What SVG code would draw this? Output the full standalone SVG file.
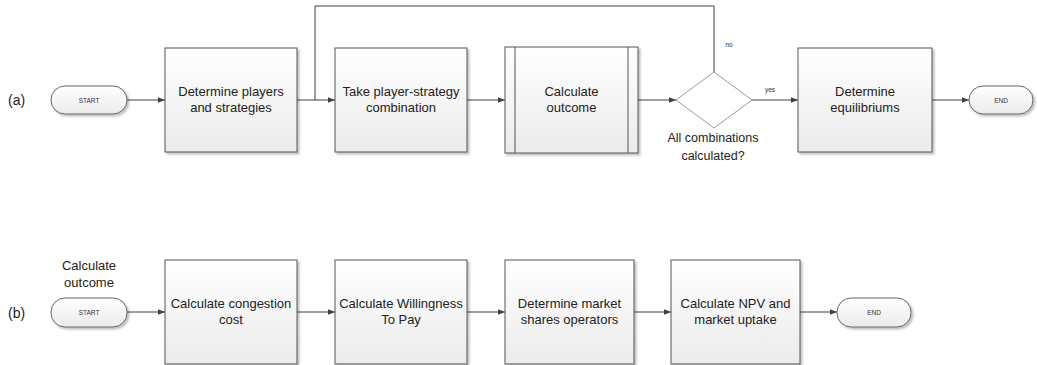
<svg xmlns="http://www.w3.org/2000/svg" width="1037" height="365" viewBox="0 0 1037 365">
<defs>
<linearGradient id="g" x1="0" y1="0" x2="0" y2="1">
<stop offset="0" stop-color="#ffffff"/>
<stop offset="1" stop-color="#ebebeb"/>
</linearGradient>
<filter id="sh" x="-10%" y="-10%" width="130%" height="130%">
<feDropShadow dx="2" dy="2" stdDeviation="1" flood-color="#000" flood-opacity="0.25"/>
</filter>
<marker id="ah" viewBox="0 0 10 10" refX="10" refY="5" markerWidth="7" markerHeight="7" markerUnits="userSpaceOnUse" orient="auto">
<path d="M0,1 L10,5 L0,9 z" fill="#404040"/>
</marker>
</defs>
<style>
.box{fill:url(#g);stroke:#555;stroke-width:1;filter:url(#sh)}
.pill{fill:url(#g);stroke:#666;stroke-width:1;filter:url(#sh)}
.dia{fill:#fff;stroke:#999;stroke-width:1}
.t{font-family:"Liberation Sans",Arial,sans-serif;font-size:13px;fill:#222;text-anchor:middle}
.s{font-family:"Liberation Sans",Arial,sans-serif;font-size:6.5px;fill:#333;text-anchor:middle}
.lab{font-family:"Liberation Sans",Arial,sans-serif;font-size:14px;fill:#222}
.c{fill:none;stroke:#404040;stroke-width:1}
.ca{fill:none;stroke:#404040;stroke-width:1;marker-end:url(#ah)}
</style>
<rect width="1037" height="365" fill="#fff"/>
<text class="lab" x="8" y="105">(a)</text>
<text class="lab" x="8" y="318">(b)</text>

<g id="connectors">
<line class="ca" x1="127" y1="100" x2="165" y2="100"/>
<line class="ca" x1="297" y1="100" x2="335" y2="100"/>
<line class="ca" x1="467" y1="100" x2="505" y2="100"/>
<line class="ca" x1="638" y1="100" x2="676" y2="100"/>
<line class="ca" x1="752" y1="100" x2="798" y2="100"/>
<polyline class="c" points="714,72 714,6 315,6 315,100"/>
<line class="ca" x1="932" y1="100" x2="969" y2="100"/>
<text class="s" x="729" y="47">no</text>
<text class="s" x="770" y="92">yes</text>
<line class="ca" x1="127" y1="312" x2="165" y2="312"/>
<line class="ca" x1="297" y1="312" x2="335" y2="312"/>
<line class="ca" x1="467" y1="312" x2="505" y2="312"/>
<line class="ca" x1="634" y1="312" x2="671" y2="312"/>
<line class="ca" x1="800" y1="312" x2="837" y2="312"/>
</g>

<g id="a-start">
<rect class="pill" x="51" y="86" width="76" height="28" rx="14"/>
<text class="s" x="89" y="102.5">START</text>
</g>
<g id="a-players">
<rect class="box" x="165" y="48" width="132" height="104"/>
<text class="t" x="231" y="96">Determine players</text>
<text class="t" x="231" y="112">and strategies</text>
</g>
<g id="a-combination">
<rect class="box" x="335" y="48" width="132" height="104"/>
<text class="t" x="401" y="96">Take player-strategy</text>
<text class="t" x="401" y="112">combination</text>
</g>
<g id="a-outcome">
<rect class="box" x="505" y="47" width="133" height="106"/>
<line x1="515" y1="47" x2="515" y2="153" stroke="#555"/>
<line x1="628" y1="47" x2="628" y2="153" stroke="#555"/>
<text class="t" x="571.5" y="96">Calculate</text>
<text class="t" x="571.5" y="112">outcome</text>
</g>
<g id="a-decision">
<polygon class="dia" points="714,72 752,100 714,128 676,100"/>
<text class="t" x="713" y="142" style="font-size:12.5px">All combinations</text>
<text class="t" x="713" y="160" style="font-size:12.5px">calculated?</text>
</g>
<g id="a-equilibriums">
<rect class="box" x="798" y="48" width="134" height="104"/>
<text class="t" x="865" y="96">Determine</text>
<text class="t" x="865" y="112">equilibriums</text>
</g>
<g id="a-end">
<rect class="pill" x="969" y="86" width="64" height="28" rx="14"/>
<text class="s" x="1001" y="102.5">END</text>
</g>

<g id="b-start">
<text class="t" x="89" y="270">Calculate</text>
<text class="t" x="89" y="287">outcome</text>
<rect class="pill" x="51" y="298" width="76" height="29" rx="14"/>
<text class="s" x="89" y="315">START</text>
</g>
<g id="b-congestion">
<rect class="box" x="165" y="260" width="132" height="104"/>
<text class="t" x="231" y="308">Calculate congestion</text>
<text class="t" x="231" y="324">cost</text>
</g>
<g id="b-wtp">
<rect class="box" x="335" y="260" width="132" height="104"/>
<text class="t" x="401" y="308">Calculate Willingness</text>
<text class="t" x="401" y="324">To Pay</text>
</g>
<g id="b-shares">
<rect class="box" x="505" y="260" width="129" height="104"/>
<text class="t" x="569.5" y="308">Determine market</text>
<text class="t" x="569.5" y="324">shares operators</text>
</g>
<g id="b-npv">
<rect class="box" x="671" y="260" width="129" height="104"/>
<text class="t" x="735.5" y="308">Calculate NPV and</text>
<text class="t" x="735.5" y="324">market uptake</text>
</g>
<g id="b-end">
<rect class="pill" x="837" y="298" width="74" height="29" rx="14"/>
<text class="s" x="874" y="315">END</text>
</g>
</svg>
